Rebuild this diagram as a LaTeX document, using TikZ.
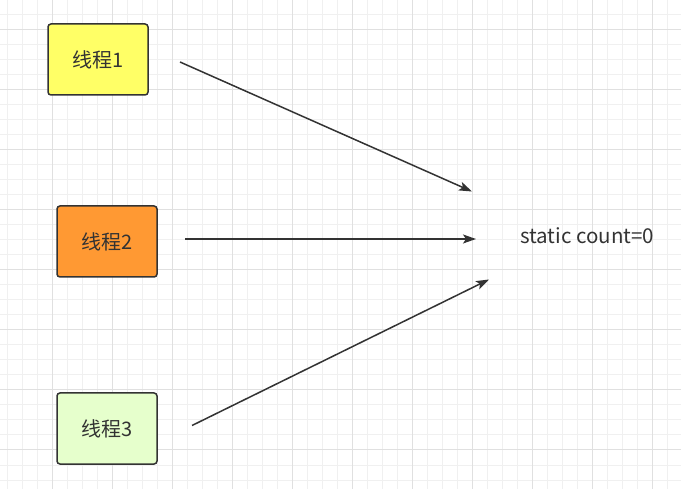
\documentclass[tikz,border=0pt]{standalone}
\usepackage{fontspec}
\setmainfont{Noto Sans CJK SC}
\usetikzlibrary{arrows.meta}
\definecolor{gridminor}{HTML}{F0F0F0}
\definecolor{gridmajor}{HTML}{E0E0E0}
\definecolor{ink}{HTML}{333333}
\definecolor{yel}{HTML}{FFFF66}
\definecolor{ora}{HTML}{FF9933}
\definecolor{lgreen}{HTML}{E6FFCC}
\tikzset{
  threadbox/.style={draw=ink, line width=1.5pt, rounded corners=3pt, minimum width=100pt, minimum height=71pt, inner sep=0pt, text=ink, font=\fontsize{20}{23}\selectfont},
  conn/.style={draw=ink, line width=1.5pt, -{Stealth[length=13pt,width=9pt,inset=3pt]}},
}
\begin{document}
\begin{tikzpicture}[x=1pt,y=-1pt]
\useasboundingbox (0,0) rectangle (681,489);
\fill[white] (0,0) rectangle (681,489);
\foreach \i in {0,...,45} {\draw[gridminor, line width=1pt] ({7+15*\i},0) -- ({7+15*\i},489);}
\foreach \i in {0,...,33} {\draw[gridminor, line width=1pt] (0,{15*\i}) -- (681,{15*\i});}
\foreach \i in {0,...,11} {\draw[gridmajor, line width=1pt] ({52+60*\i},0) -- ({52+60*\i},489);}
\foreach \i in {0,...,8} {\draw[gridmajor, line width=1pt] (0,{30+60*\i}) -- (681,{30+60*\i});}

\node[threadbox, fill=yel] (t1) at (98,59.5) {线程1};
\node[threadbox, fill=ora] (t2) at (107,241.5) {线程2};
\node[threadbox, fill=lgreen] (t3) at (107,428.5) {线程3};

\node[anchor=west, inner sep=0pt, text=ink, font=\fontsize{20.5}{24}\selectfont] (sc) at (520,236) {static count=0};

\coordinate (s1) at (180,62);
\coordinate (e1) at (472,191.5);
\coordinate (s2) at (185,239);
\coordinate (e2) at (476,239);
\coordinate (s3) at (192,425.5);
\coordinate (e3) at (489,279.5);

\draw[conn] (s1) -- (e1);
\draw[conn] (s2) -- (e2);
\draw[conn] (s3) -- (e3);
\end{tikzpicture}
\end{document}
